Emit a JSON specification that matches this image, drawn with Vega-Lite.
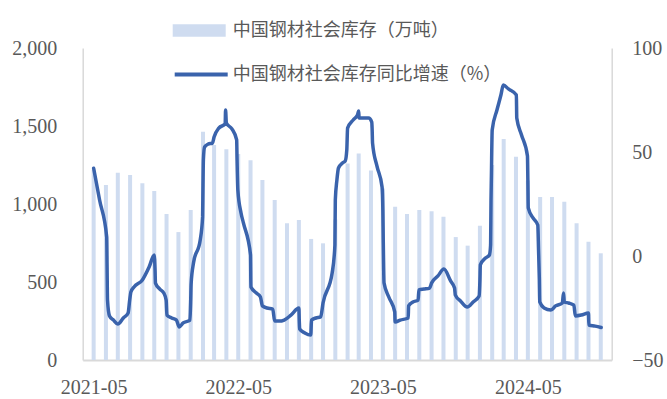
{
  "$schema": "https://vega.github.io/schema/vega-lite/v6.json",
  "width": 529,
  "height": 312,
  "autosize": {"type": "none"},
  "padding": {"left": 82.7, "top": 48, "right": 55.3, "bottom": 39},
  "background": "white",
  "config": {
    "view": {"stroke": null},
    "axis": {
      "domainColor": "#D9D9D9",
      "domainWidth": 1.5,
      "ticks": false,
      "tickSize": 0,
      "grid": false,
      "labelFont": "Liberation Serif",
      "labelFontSize": 20,
      "labelColor": "#595959",
      "title": null
    },
    "legend": {
      "labelFont": "Noto Sans CJK SC",
      "labelFontSize": 18,
      "labelColor": "#595959",
      "labelLimit": 500,
      "padding": 0,
      "offset": 0,
      "title": null
    }
  },
  "datasets": {
    "stock": [
      {"month": "2021-05-01", "stock": 1220},
      {"month": "2021-06-01", "stock": 1122},
      {"month": "2021-07-01", "stock": 1200},
      {"month": "2021-08-01", "stock": 1186},
      {"month": "2021-09-01", "stock": 1133},
      {"month": "2021-10-01", "stock": 1083},
      {"month": "2021-11-01", "stock": 936},
      {"month": "2021-12-01", "stock": 820},
      {"month": "2022-01-01", "stock": 962},
      {"month": "2022-02-01", "stock": 1463},
      {"month": "2022-03-01", "stock": 1378},
      {"month": "2022-04-01", "stock": 1351},
      {"month": "2022-05-01", "stock": 1320},
      {"month": "2022-06-01", "stock": 1280},
      {"month": "2022-07-01", "stock": 1154},
      {"month": "2022-08-01", "stock": 1026},
      {"month": "2022-09-01", "stock": 876},
      {"month": "2022-10-01", "stock": 897},
      {"month": "2022-11-01", "stock": 776},
      {"month": "2022-12-01", "stock": 748},
      {"month": "2023-01-01", "stock": 900},
      {"month": "2023-02-01", "stock": 1260},
      {"month": "2023-03-01", "stock": 1324},
      {"month": "2023-04-01", "stock": 1214},
      {"month": "2023-05-01", "stock": 1100},
      {"month": "2023-06-01", "stock": 983},
      {"month": "2023-07-01", "stock": 936},
      {"month": "2023-08-01", "stock": 962},
      {"month": "2023-09-01", "stock": 953},
      {"month": "2023-10-01", "stock": 919},
      {"month": "2023-11-01", "stock": 788},
      {"month": "2023-12-01", "stock": 733},
      {"month": "2024-01-01", "stock": 860},
      {"month": "2024-02-01", "stock": 1250},
      {"month": "2024-03-01", "stock": 1417},
      {"month": "2024-04-01", "stock": 1303},
      {"month": "2024-05-01", "stock": 1150},
      {"month": "2024-06-01", "stock": 1045},
      {"month": "2024-07-01", "stock": 1045},
      {"month": "2024-08-01", "stock": 1015},
      {"month": "2024-09-01", "stock": 876},
      {"month": "2024-10-01", "stock": 758},
      {"month": "2024-11-01", "stock": 684}
    ],
    "yoy": [
      {"date": "2021-05-01", "yoy": 42.2},
      {"date": "2021-05-16", "yoy": 26.9},
      {"date": "2021-06-03", "yoy": 9.1},
      {"date": "2021-06-04", "yoy": -6.7},
      {"date": "2021-06-05", "yoy": -21.2},
      {"date": "2021-06-10", "yoy": -28.8},
      {"date": "2021-06-20", "yoy": -30.8},
      {"date": "2021-07-01", "yoy": -32.7},
      {"date": "2021-07-15", "yoy": -29.8},
      {"date": "2021-07-27", "yoy": -27.4},
      {"date": "2021-07-31", "yoy": -21.2},
      {"date": "2021-08-03", "yoy": -17.3},
      {"date": "2021-08-11", "yoy": -14.9},
      {"date": "2021-09-01", "yoy": -11.5},
      {"date": "2021-09-18", "yoy": -5.3},
      {"date": "2021-10-01", "yoy": 0.5},
      {"date": "2021-10-03", "yoy": -6.7},
      {"date": "2021-10-04", "yoy": -13.0},
      {"date": "2021-10-15", "yoy": -15.9},
      {"date": "2021-10-25", "yoy": -17.8},
      {"date": "2021-10-31", "yoy": -21.2},
      {"date": "2021-11-02", "yoy": -28.4},
      {"date": "2021-11-14", "yoy": -29.8},
      {"date": "2021-11-26", "yoy": -30.8},
      {"date": "2021-12-03", "yoy": -34.1},
      {"date": "2021-12-13", "yoy": -32.2},
      {"date": "2021-12-30", "yoy": -30.8},
      {"date": "2022-01-01", "yoy": -21.2},
      {"date": "2022-01-02", "yoy": -13.5},
      {"date": "2022-01-08", "yoy": -3.4},
      {"date": "2022-01-25", "yoy": 7.7},
      {"date": "2022-01-31", "yoy": 18.8},
      {"date": "2022-02-01", "yoy": 34.1},
      {"date": "2022-02-02", "yoy": 46.2},
      {"date": "2022-02-05", "yoy": 52.4},
      {"date": "2022-02-14", "yoy": 53.8},
      {"date": "2022-02-25", "yoy": 54.3},
      {"date": "2022-03-01", "yoy": 57.2},
      {"date": "2022-03-13", "yoy": 61.5},
      {"date": "2022-03-29", "yoy": 63.5},
      {"date": "2022-03-30", "yoy": 70.2},
      {"date": "2022-04-01", "yoy": 63.9},
      {"date": "2022-04-15", "yoy": 61.1},
      {"date": "2022-04-27", "yoy": 55.8},
      {"date": "2022-04-28", "yoy": 46.2},
      {"date": "2022-04-30", "yoy": 31.7},
      {"date": "2022-05-08", "yoy": 20.7},
      {"date": "2022-05-14", "yoy": 15.9},
      {"date": "2022-06-01", "yoy": 0.5},
      {"date": "2022-06-02", "yoy": -14.9},
      {"date": "2022-06-16", "yoy": -17.8},
      {"date": "2022-06-26", "yoy": -19.7},
      {"date": "2022-07-01", "yoy": -24.0},
      {"date": "2022-07-13", "yoy": -25.0},
      {"date": "2022-07-27", "yoy": -25.5},
      {"date": "2022-08-01", "yoy": -31.3},
      {"date": "2022-08-12", "yoy": -31.3},
      {"date": "2022-08-25", "yoy": -30.8},
      {"date": "2022-09-11", "yoy": -28.4},
      {"date": "2022-10-01", "yoy": -25.0},
      {"date": "2022-10-02", "yoy": -30.8},
      {"date": "2022-10-03", "yoy": -35.1},
      {"date": "2022-10-16", "yoy": -37.0},
      {"date": "2022-10-31", "yoy": -38.0},
      {"date": "2022-11-02", "yoy": -30.8},
      {"date": "2022-11-13", "yoy": -29.8},
      {"date": "2022-11-25", "yoy": -29.3},
      {"date": "2022-12-01", "yoy": -22.6},
      {"date": "2022-12-24", "yoy": -8.2},
      {"date": "2022-12-31", "yoy": 5.3},
      {"date": "2023-01-01", "yoy": 26.9},
      {"date": "2023-01-05", "yoy": 36.5},
      {"date": "2023-01-09", "yoy": 42.3},
      {"date": "2023-01-19", "yoy": 44.7},
      {"date": "2023-01-26", "yoy": 45.7},
      {"date": "2023-01-30", "yoy": 51.0},
      {"date": "2023-02-01", "yoy": 61.5},
      {"date": "2023-02-15", "yoy": 65.4},
      {"date": "2023-02-26", "yoy": 67.8},
      {"date": "2023-03-01", "yoy": 69.7},
      {"date": "2023-03-02", "yoy": 66.3},
      {"date": "2023-03-14", "yoy": 66.3},
      {"date": "2023-03-26", "yoy": 66.3},
      {"date": "2023-04-03", "yoy": 64.4},
      {"date": "2023-04-04", "yoy": 60.6},
      {"date": "2023-04-05", "yoy": 54.3},
      {"date": "2023-04-16", "yoy": 43.3},
      {"date": "2023-04-29", "yoy": 33.2},
      {"date": "2023-05-01", "yoy": 22.1},
      {"date": "2023-05-02", "yoy": 7.7},
      {"date": "2023-05-04", "yoy": -13.0},
      {"date": "2023-05-16", "yoy": -19.7},
      {"date": "2023-05-31", "yoy": -26.9},
      {"date": "2023-06-01", "yoy": -31.7},
      {"date": "2023-06-14", "yoy": -30.8},
      {"date": "2023-07-04", "yoy": -29.8},
      {"date": "2023-07-05", "yoy": -24.0},
      {"date": "2023-07-16", "yoy": -22.1},
      {"date": "2023-07-29", "yoy": -21.2},
      {"date": "2023-07-31", "yoy": -16.3},
      {"date": "2023-08-13", "yoy": -15.9},
      {"date": "2023-08-27", "yoy": -15.4},
      {"date": "2023-09-01", "yoy": -13.0},
      {"date": "2023-09-17", "yoy": -9.6},
      {"date": "2023-10-02", "yoy": -6.3},
      {"date": "2023-10-19", "yoy": -12.0},
      {"date": "2023-10-29", "yoy": -15.4},
      {"date": "2023-10-31", "yoy": -18.8},
      {"date": "2023-11-13", "yoy": -21.6},
      {"date": "2023-11-30", "yoy": -24.5},
      {"date": "2023-12-15", "yoy": -22.1},
      {"date": "2023-12-30", "yoy": -19.2},
      {"date": "2024-01-01", "yoy": -11.5},
      {"date": "2024-01-02", "yoy": -4.3},
      {"date": "2024-01-15", "yoy": -1.0},
      {"date": "2024-01-25", "yoy": 0.5},
      {"date": "2024-01-28", "yoy": 5.3},
      {"date": "2024-01-29", "yoy": 26.9},
      {"date": "2024-01-30", "yoy": 38.9},
      {"date": "2024-02-01", "yoy": 60.6},
      {"date": "2024-02-13", "yoy": 70.2},
      {"date": "2024-02-23", "yoy": 77.4},
      {"date": "2024-02-29", "yoy": 82.2},
      {"date": "2024-03-13", "yoy": 80.3},
      {"date": "2024-04-02", "yoy": 77.4},
      {"date": "2024-04-03", "yoy": 66.3},
      {"date": "2024-04-15", "yoy": 58.2},
      {"date": "2024-04-30", "yoy": 48.1},
      {"date": "2024-05-01", "yoy": 36.5},
      {"date": "2024-05-02", "yoy": 23.1},
      {"date": "2024-05-14", "yoy": 18.3},
      {"date": "2024-05-26", "yoy": 14.9},
      {"date": "2024-05-28", "yoy": 2.9},
      {"date": "2024-05-30", "yoy": -11.5},
      {"date": "2024-05-31", "yoy": -22.1},
      {"date": "2024-06-11", "yoy": -25.0},
      {"date": "2024-06-28", "yoy": -26.0},
      {"date": "2024-07-10", "yoy": -24.0},
      {"date": "2024-07-27", "yoy": -22.6},
      {"date": "2024-07-30", "yoy": -17.8},
      {"date": "2024-08-01", "yoy": -22.1},
      {"date": "2024-08-12", "yoy": -22.6},
      {"date": "2024-08-25", "yoy": -23.6},
      {"date": "2024-08-29", "yoy": -28.8},
      {"date": "2024-09-13", "yoy": -28.4},
      {"date": "2024-10-01", "yoy": -27.4},
      {"date": "2024-10-02", "yoy": -33.2},
      {"date": "2024-10-18", "yoy": -33.7},
      {"date": "2024-11-02", "yoy": -34.4}
    ]
  },
  "layer": [
    {
      "data": {"name": "stock", "format": {"parse": {"month": "date:'%Y-%m-%d'"}}},
      "mark": {"type": "bar", "width": 4},
      "encoding": {
        "x": {
          "field": "month",
          "type": "temporal",
          "scale": {"domain": [{"year": 2021, "month": 4, "date": 16}, {"year": 2024, "month": 11, "date": 16}]},
          "axis": {
            "values": [
              {"year": 2021, "month": 5, "date": 1},
              {"year": 2022, "month": 5, "date": 1},
              {"year": 2023, "month": 5, "date": 1},
              {"year": 2024, "month": 5, "date": 1}
            ],
            "format": "%Y-%m",
            "labelPadding": 17,
            "domainWidth": 2
          }
        },
        "y": {
          "field": "stock",
          "type": "quantitative",
          "scale": {"domain": [0, 2000]},
          "axis": {"orient": "left", "values": [0, 500, 1000, 1500, 2000], "format": ",.0f", "labelPadding": 26}
        },
        "fill": {
          "datum": "中国钢材社会库存（万吨）",
          "type": "nominal",
          "scale": {"range": ["#CFDCF0"]},
          "legend": {
            "orient": "none",
            "legendX": 90,
            "legendY": -44,
            "symbolType": "M-1,-0.24H1V0.24H-1Z",
            "symbolSize": 2809,
            "symbolStrokeWidth": 0,
            "labelOffset": 7
          }
        }
      }
    },
    {
      "data": {"name": "yoy", "format": {"parse": {"date": "date:'%Y-%m-%d'"}}},
      "mark": {"type": "line", "interpolate": "monotone", "strokeWidth": 3.5, "strokeCap": "round", "strokeJoin": "round"},
      "encoding": {
        "x": {"field": "date", "type": "temporal"},
        "y": {
          "field": "yoy",
          "type": "quantitative",
          "scale": {"domain": [-50, 100]},
          "axis": {"orient": "right", "values": [-50, 0, 50, 100], "labelPadding": 20, "labelAlign": "left"}
        },
        "stroke": {
          "datum": "中国钢材社会库存同比增速（%）",
          "type": "nominal",
          "scale": {"range": ["#3A63AC"]},
          "legend": {
            "orient": "none",
            "legendX": 90,
            "legendY": -2,
            "symbolType": "stroke",
            "symbolSize": 2809,
            "symbolStrokeWidth": 4,
            "labelOffset": 3
          }
        }
      }
    }
  ],
  "resolve": {"scale": {"y": "independent"}}
}
